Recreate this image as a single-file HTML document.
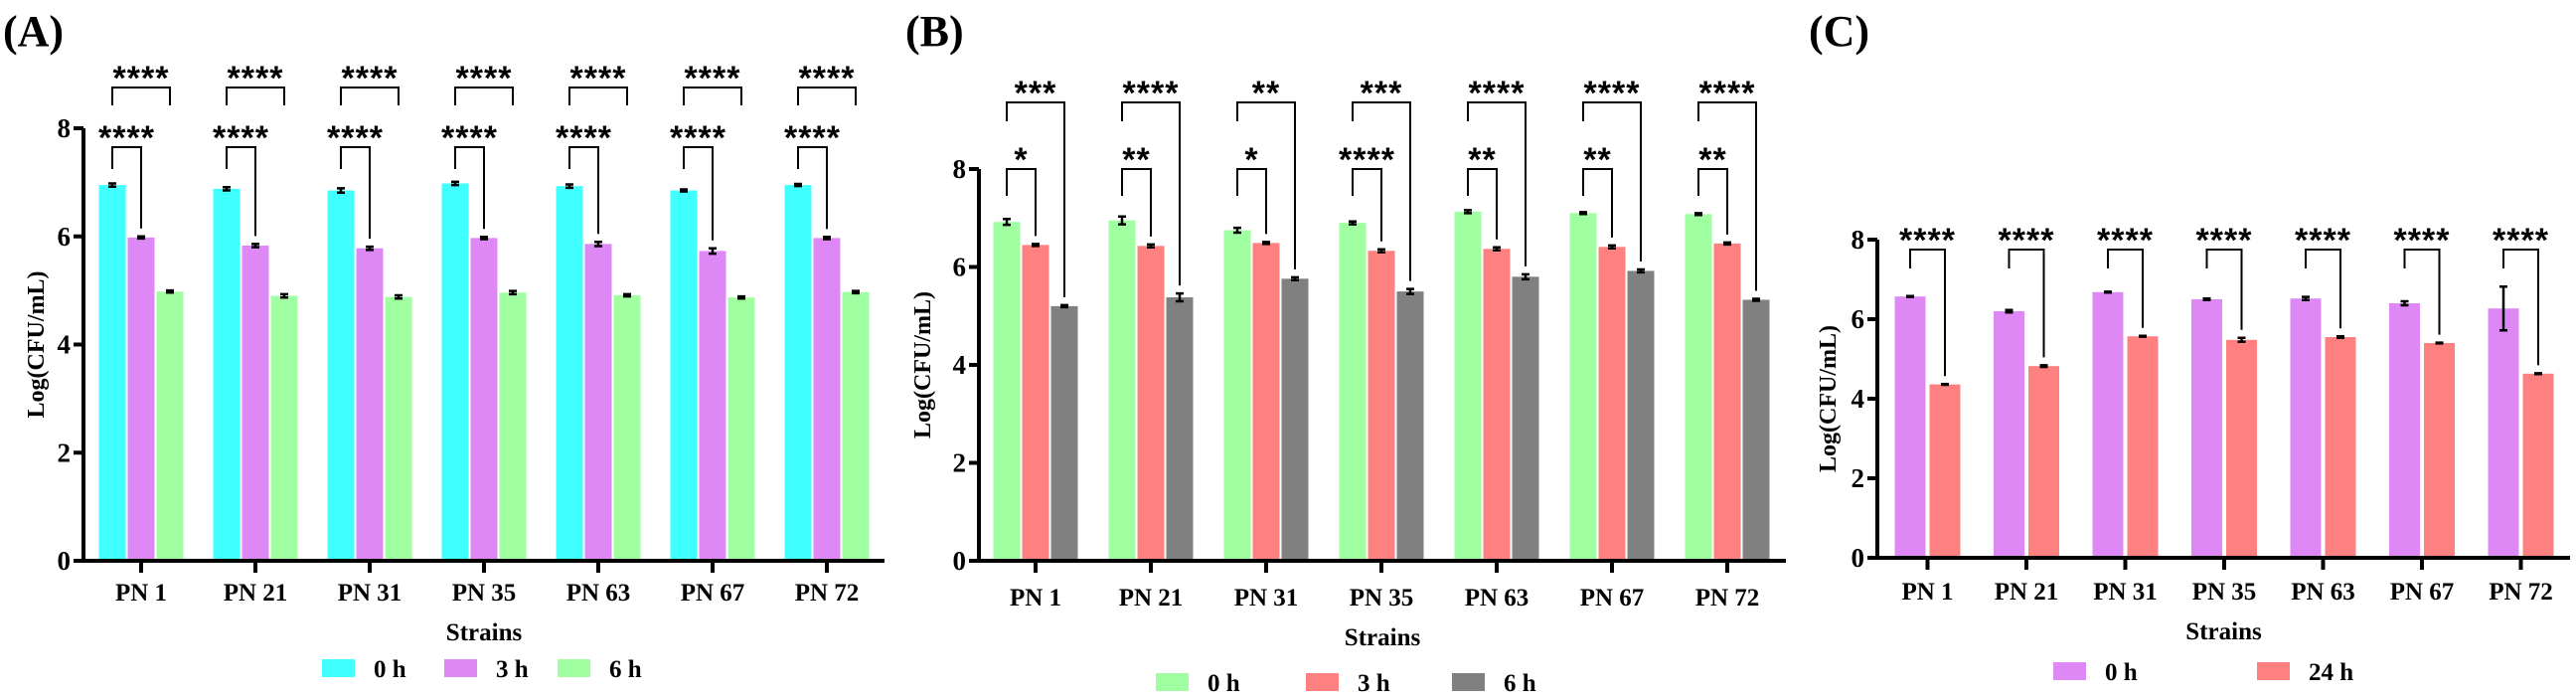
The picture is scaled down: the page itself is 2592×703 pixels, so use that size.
<!DOCTYPE html>
<html><head><meta charset="utf-8">
<style>
html,body{margin:0;padding:0;background:#fff;}
svg{display:block;}
</style></head>
<body>
<svg id="fig" width="2592" height="703" viewBox="0 0 2592 703" xmlns="http://www.w3.org/2000/svg"></svg>
<script>
const categories = ["PN 1","PN 21","PN 31","PN 35","PN 63","PN 67","PN 72"];
const yTicks = [0,2,4,6,8];
// Panel A
const aSeriesNames = ["0 h","3 h","6 h"];
const a0h = [6.95,6.88,6.85,6.98,6.93,6.85,6.95];
const a3h = [5.98,5.83,5.78,5.97,5.86,5.73,5.97];
const a6h = [4.98,4.90,4.88,4.96,4.91,4.87,4.97];
const a0hErr = [0.03,0.03,0.04,0.03,0.03,0.02,0.02];
const a3hErr = [0.02,0.03,0.03,0.02,0.04,0.05,0.02];
const a6hErr = [0.02,0.03,0.03,0.03,0.02,0.02,0.02];
const aSigLow = ["****","****","****","****","****","****","****"];
const aSigHigh = ["****","****","****","****","****","****","****"];
// Panel B
const bSeriesNames = ["0 h","3 h","6 h"];
const b0h = [6.92,6.95,6.75,6.90,7.13,7.10,7.08];
const b3h = [6.45,6.43,6.49,6.33,6.37,6.41,6.48];
const b6h = [5.20,5.38,5.76,5.50,5.80,5.92,5.33];
const b0hErr = [0.06,0.08,0.05,0.03,0.03,0.02,0.02];
const b3hErr = [0.02,0.03,0.02,0.03,0.03,0.03,0.02];
const b6hErr = [0.02,0.08,0.03,0.05,0.05,0.03,0.02];
const bSigLow = ["*","**","*","****","**","**","**"];
const bSigHigh = ["***","****","**","***","****","****","****"];
// Panel C
const cSeriesNames = ["0 h","24 h"];
const c0h = [6.57,6.20,6.68,6.50,6.52,6.40,6.27];
const c24h = [4.36,4.82,5.57,5.48,5.55,5.40,4.63];
const c0hErr = [0.01,0.03,0.01,0.02,0.04,0.05,0.55];
const c24hErr = [0.01,0.02,0.01,0.05,0.02,0.01,0.01];
const cSig = ["****","****","****","****","****","****","****"];

const NS="http://www.w3.org/2000/svg";
const svg=document.getElementById('fig');
const SERIF='"Liberation Serif", "DejaVu Serif", serif';
function mk(tag,attrs,parent,txt){const e=document.createElementNS(NS,tag);for(const k in attrs)e.setAttribute(k,attrs[k]);if(txt!==undefined)e.textContent=txt;(parent||svg).appendChild(e);return e;}
function tx(attrs,parent,txt){attrs['font-family']=attrs['font-family']||SERIF;attrs['font-weight']='bold';attrs['fill']='#000';return mk('text',attrs,parent,txt);}

function panel(cfg){
  const g=mk('g',{});
  
  
  const y=v=>cfg.y0-(v/8)*(cfg.y0-cfg.y8);
  const xc=i=>cfg.firstTick+i*cfg.step;
  const n=cfg.series.length;
  const barX=(i,s)=>xc(i)-(n*cfg.bw+(n-1)*cfg.gap)/2+s*(cfg.bw+cfg.gap);
  const lab=tx({x:cfg.labelX,y:46,'font-size':44},g,cfg.letter);
  
  
  cfg.series.forEach((ser,s)=>{
    ser.forEach((v,i)=>{
      const bx=barX(i,s);
      const r=mk('rect',{x:bx,y:y(v),width:cfg.bw,height:cfg.y0-y(v),fill:cfg.colors[s]},g);
      
      
      const e=cfg.errs[s][i];const cx=bx+cfg.bw/2;
      const eb=mk('path',{d:`M${cx},${y(v+e)}V${y(v-e)}M${cx-4},${y(v+e)}H${cx+4}M${cx-4},${y(v-e)}H${cx+4}`,stroke:'#000','stroke-width':2.5,fill:'none'},g);
      
      
    });
  });
  const ax=mk('path',{d:`M${cfg.axX},${cfg.y8}V${cfg.y0+2}M${cfg.axX-2},${cfg.y0}H${cfg.axEnd}`,stroke:'#000','stroke-width':4,fill:'none'},g);
  
  
  yTicks.forEach(t=>{
    mk('line',{x1:cfg.axX-10,x2:cfg.axX,y1:y(t),y2:y(t),stroke:'#000','stroke-width':4},g);
    const tl=tx({x:cfg.axX-13,y:y(t)+9,'font-size':27,'text-anchor':'end'},g,String(t));
    
    
  });
  categories.forEach((c,i)=>{
    mk('line',{x1:xc(i),x2:xc(i),y1:cfg.y0,y2:cfg.y0+12,stroke:'#000','stroke-width':4},g);
    const tl=tx({x:xc(i),y:cfg.catY,'font-size':25,'text-anchor':'middle'},g,c);
    
    
  });
  const xt=tx({x:(cfg.axX+cfg.axEnd)/2,y:cfg.catY+40,'font-size':25,'text-anchor':'middle'},g,'Strains');
  
  
  const yt=tx({x:0,y:0,'font-size':24,'text-anchor':'middle',transform:`translate(${cfg.ylabX},${(cfg.y0+cfg.y8)/2}) rotate(-90)`},g,'Log(CFU/mL)');
  
  
  cfg.names.forEach((nm,s)=>{
    const lx=cfg.legX[s];
    const sw=mk('rect',{x:lx,y:cfg.legY-9,width:33,height:18,fill:cfg.colors[s]},g);
    
    
    const lt=tx({x:lx+52,y:cfg.legY+9,'font-size':25},g,nm);
    
    
  });
  cfg.brackets.forEach(b=>{
    b.labels.forEach((lbl,i)=>{
      const x1=barX(i,b.from)+cfg.bw/2, x2=barX(i,b.to)+cfg.bw/2;
      const vTo=cfg.series[b.to][i]+cfg.errs[b.to][i];
      const rEnd=Math.min(y(vTo)-8,cfg.y0);
      const p=mk('path',{d:`M${x1},${b.leftEnd}V${b.top}H${x2}V${b.rightFixed?b.leftEnd:rEnd}`,stroke:'#000','stroke-width':2,fill:'none'},g);
      
      
      const st=tx({x:(x1+x2)/2,y:b.top+2,'font-size':34,'text-anchor':'middle','font-family':'"Liberation Sans", sans-serif','letter-spacing':'1'},g,lbl);
      
      
    });
  });
}

panel({name:'panel-a',letter:'(A)',labelX:3,axX:84,axEnd:890,y0:564,y8:129,firstTick:142,step:115,bw:27,gap:2,
  series:[a0h,a3h,a6h],errs:[a0hErr,a3hErr,a6hErr],names:aSeriesNames,colors:['#40FFFF','#DD88F5','#A0FFA0'],
  catY:604,ylabX:44,legX:[324,447,561],legY:672,
  brackets:[{from:0,to:1,top:148,leftEnd:170,labels:aSigLow},{from:0,to:2,top:88,leftEnd:106,rightFixed:true,labels:aSigHigh}]});
panel({name:'panel-b',letter:'(B)',labelX:911,axX:985,axEnd:1797,y0:564,y8:170,firstTick:1042,step:116,bw:27,gap:2,
  series:[b0h,b3h,b6h],errs:[b0hErr,b3hErr,b6hErr],names:bSeriesNames,colors:['#A0FFA0','#FF8080','#808080'],
  catY:609,ylabX:936,legX:[1163,1314,1461],legY:686,
  brackets:[{from:0,to:1,top:170,leftEnd:197,labels:bSigLow},{from:0,to:2,top:103,leftEnd:122,labels:bSigHigh}]});
panel({name:'panel-c',letter:'(C)',labelX:1820,axX:1889,axEnd:2586,y0:561,y8:241,firstTick:1939.5,step:99.5,bw:31,gap:4,
  series:[c0h,c24h],errs:[c0hErr,c24hErr],names:cSeriesNames,colors:['#DD88F5','#FF8080'],
  catY:603,ylabX:1847,legX:[2066,2271],legY:675,
  brackets:[{from:0,to:1,top:251,leftEnd:270,labels:cSig}]});
</script>
</body></html>
